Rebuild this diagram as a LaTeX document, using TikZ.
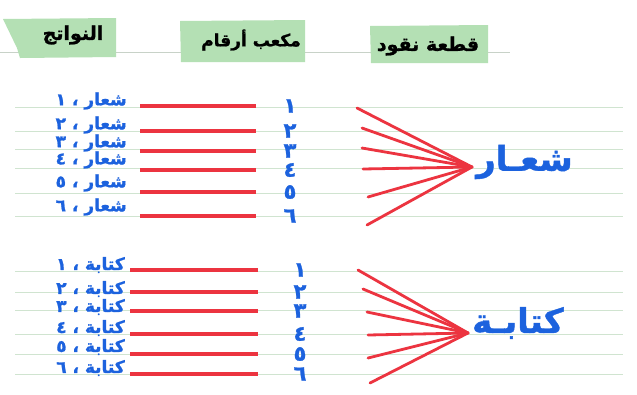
\documentclass[tikz,border=0pt]{standalone}
\usepackage{fontspec}
\newfontfamily\arabicfont[Script=Arabic, BoldFeatures={FakeBold=1.2}]{DejaVu Sans}
\TeXXeTstate=1
\newcommand{\artext}[1]{\beginR #1\endR}
\definecolor{ruleline}{RGB}{208,228,208}
\definecolor{headline}{RGB}{200,210,200}
\definecolor{tapegreen}{RGB}{180,224,180}
\definecolor{penred}{RGB}{236,52,64}
\definecolor{penblue}{RGB}{28,98,222}
\tikzset{
  rl/.style={draw=ruleline, line width=0.9pt},
  tape/.style={fill=tapegreen},
  headtxt/.style={font=\arabicfont\bfseries\fontsize{19}{22}\selectfont, text=black, inner sep=0pt},
  outlab/.style={font=\arabicfont\bfseries\fontsize{17}{19}\selectfont, text=penblue, inner sep=0pt, anchor=east},
  numlab/.style={font=\arabicfont\bfseries\fontsize{21}{23}\selectfont, text=penblue, inner sep=0pt},
  biglab/.style={font=\arabicfont\bfseries\fontsize{34}{38}\selectfont, text=penblue, inner sep=0pt, anchor=west},
  redln/.style={draw=penred, line width=3.6pt},
  fanln/.style={draw=penred, line width=2.8pt, line cap=round},
}
\begin{document}
\begin{tikzpicture}[x=1pt,y=-1pt]
\useasboundingbox (0,0) rectangle (637,394);
\fill[white] (0,0) rectangle (637,394);
% ruled lines
\draw[draw=headline, line width=0.9pt] (0,52) -- (510,52);
\foreach \yy in {107,131,149,168,193,216,271,292,310,334,354,374}
  \draw[rl] (15,\yy) -- (623,\yy);
% header tapes
\fill[tape] (3,19) -- (116,18) -- (116,57) -- (20,58) -- (17,48) -- cycle;
\fill[tape] (180,21) -- (305,20) -- (305,62) -- (181,62) -- cycle;
\fill[tape] (370,26) -- (488,25) -- (488,63) -- (371,63) -- cycle;
\node[headtxt] (hOut) at (73,35) {\artext{النواتج}};
\node[headtxt, font=\arabicfont\bfseries\fontsize{17}{20}\selectfont] (hDie) at (251,40) {\artext{مكعب أرقام}};
\node[headtxt] (hCoin) at (428,46) {\artext{قطعة نقود}};
% top block: شعار
\node[numlab] (n1) at (290,106) {١};
\node[numlab] (n2) at (290,131) {٢};
\node[numlab] (n3) at (290,151) {٣};
\node[numlab] (n4) at (290,170) {٤};
\node[numlab] (n5) at (290,192) {٥};
\node[numlab] (n6) at (290,216) {٦};
\node[outlab] (o1) at (127,101) {\artext{شعار ، ١}};
\node[outlab] (o2) at (127,125) {\artext{شعار ، ٢}};
\node[outlab] (o3) at (127,143) {\artext{شعار ، ٣}};
\node[outlab] (o4) at (127,160) {\artext{شعار ، ٤}};
\node[outlab] (o5) at (127,183) {\artext{شعار ، ٥}};
\node[outlab] (o6) at (127,207) {\artext{شعار ، ٦}};
\foreach \i in {1,...,6}
  \draw[redln, shorten <=13pt, shorten >=27pt] (o\i.east |- n\i) -- (n\i.west);
\node[biglab] (S) at (476,162) {\artext{شعـار}};
\coordinate (cS) at (472,167);
\coordinate (f1) at (357,108);
\coordinate (f2) at (362,128);
\coordinate (f3) at (362,148);
\coordinate (f4) at (363,169);
\coordinate (f5) at (368,197);
\coordinate (f6) at (367,225);
\foreach \i in {1,...,6}
  \draw[fanln] (f\i) -- (cS);
% bottom block: كتابة
\node[numlab] (m1) at (300,270) {١};
\node[numlab] (m2) at (300,292) {٢};
\node[numlab] (m3) at (300,311) {٣};
\node[numlab] (m4) at (300,334) {٤};
\node[numlab] (m5) at (300,354) {٥};
\node[numlab] (m6) at (300,374) {٦};
\node[outlab] (k1) at (125,265) {\artext{كتابة ، ١}};
\node[outlab] (k2) at (125,289) {\artext{كتابة ، ٢}};
\node[outlab] (k3) at (125,307) {\artext{كتابة ، ٣}};
\node[outlab] (k4) at (125,328) {\artext{كتابة ، ٤}};
\node[outlab] (k5) at (125,347) {\artext{كتابة ، ٥}};
\node[outlab] (k6) at (125,368) {\artext{كتابة ، ٦}};
\foreach \i in {1,...,6}
  \draw[redln, shorten <=5pt, shorten >=35pt] (k\i.east |- m\i) -- (m\i.west);
\node[biglab] (K) at (472,323) {\artext{كتابـة}};
\coordinate (cK) at (468,333);
\coordinate (g1) at (358,270);
\coordinate (g2) at (363,289);
\coordinate (g3) at (367,312);
\coordinate (g4) at (368,335);
\coordinate (g5) at (368,358);
\coordinate (g6) at (370,383);
\foreach \i in {1,...,6}
  \draw[fanln] (g\i) -- (cK);
\end{tikzpicture}
\end{document}
